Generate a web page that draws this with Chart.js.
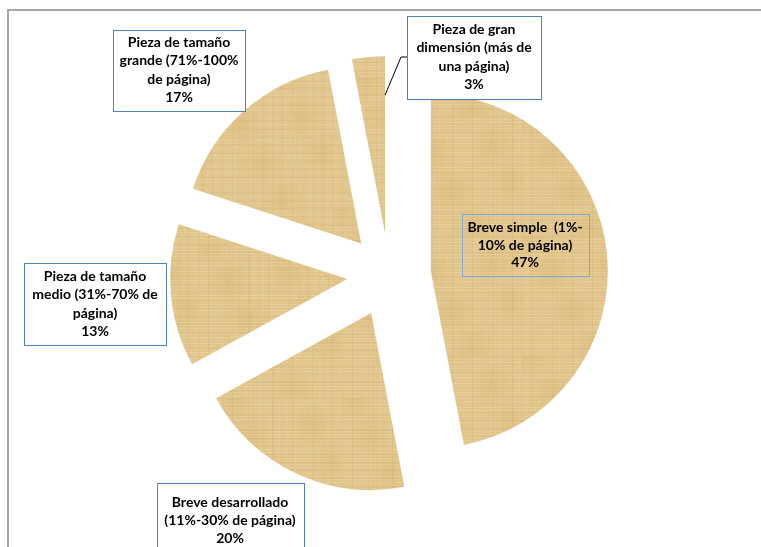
<!DOCTYPE html>
<html>
<head>
<meta charset="utf-8">
<script src="https://cdn.jsdelivr.net/npm/chart.js@4/dist/chart.umd.min.js"></script>
<style>
    html, body { margin: 0; padding: 0; background: #fff; }
    #wrap { width: 761px; height: 547px; }
</style>
</head>
<body>
<div id="wrap"><canvas id="tamanos" width="761" height="547"></canvas></div>
<script>
// datos
const categorias = [
    'Breve simple (1%-10% de página)',
    'Breve desarrollado (11%-30% de página)',
    'Pieza de tamaño medio (31%-70% de página)',
    'Pieza de tamaño grande (71%-100% de página)',
    'Pieza de gran dimensión (más de una página)'
];
const porcentajes = [47, 20, 13, 17, 3];
const lineasEtiqueta = [
    ['Breve simple  (1%-', '10% de página)'],
    ['Breve desarrollado', '(11%-30% de página)'],
    ['Pieza de tamaño', 'medio (31%-70% de', 'página)'],
    ['Pieza de tamaño', 'grande (71%-100%', 'de página)'],
    ['Pieza de gran', 'dimensión (más de', 'una página)']
];

// layout de las cajas (relativo al centro del pastel)
const cajas = [
    { dx: 136, dy: -30, w: 127, h: 62, fondo: null, borde: '#7FA6D8', alto: 17.5 },
    { dx: -159, dy: 245, w: 147, h: 74, fondo: '#fff', borde: '#4F81BD', alto: 18 },
    { dx: -294, dy: 29, w: 142, h: 82, fondo: '#fff', borde: '#4F81BD', alto: 18.3 },
    { dx: -210, dy: -205, w: 132, h: 81, fondo: '#fff', borde: '#4F81BD', alto: 18.3 },
    { dx: 85, dy: -218, w: 134, h: 83, fondo: '#fff', borde: '#4F81BD', alto: 18.3 }
];
const EXPLOSION = 42;

function crearPapiro(ctx) {
    const n = 120;
    const c = document.createElement('canvas');
    c.width = n;
    c.height = n;
    const g = c.getContext('2d');
    g.fillStyle = '#E4C990';
    g.fillRect(0, 0, n, n);
    // fibras verticales
    for (let x = 0; x < n; x += 2) {
        const a = 0.04 + 0.08 * Math.abs(Math.sin(x * 1.73) * Math.cos(x * 0.37));
        g.fillStyle = `rgba(175,135,70,${a.toFixed(3)})`;
        g.fillRect(x, 0, 1, n);
    }
    // fibras horizontales claras
    for (let y = 0; y < n; y += 3) {
        const a = 0.12 + 0.14 * Math.abs(Math.sin(y * 2.31));
        g.fillStyle = `rgba(250,236,200,${a.toFixed(3)})`;
        g.fillRect(0, y, n, 1);
    }
    // trama tejida
    for (let y = 0; y < n; y += 8) {
        g.fillStyle = 'rgba(160,120,60,0.10)';
        g.fillRect(0, y, n, 1);
    }
    for (let x = 0; x < n; x += 10) {
        g.fillStyle = 'rgba(160,120,60,0.08)';
        g.fillRect(x, 0, 1, n);
    }
    // manchas suaves
    for (let k = 0; k < 6; k++) {
        const x = 20 * k + 10;
        const y = (37 * k) % n;
        const grd = g.createRadialGradient(x, y, 0, x, y, 22);
        grd.addColorStop(0, 'rgba(200,160,90,0.18)');
        grd.addColorStop(1, 'rgba(200,160,90,0)');
        g.fillStyle = grd;
        g.fillRect(x - 22, y - 22, 44, 44);
    }
    return ctx.createPattern(c, 'repeat');
}

const marco = {
    id: 'marco',
    beforeDraw(chart) {
        const ctx = chart.ctx;
        ctx.save();
        ctx.fillStyle = '#fff';
        ctx.fillRect(0, 0, chart.width, chart.height);
        ctx.strokeStyle = '#A6A6A6';
        ctx.lineWidth = 2;
        ctx.strokeRect(8, 10, chart.width + 20, chart.height + 20);
        ctx.restore();
    }
};

// separa cada porción a lo largo de su bisectriz sin agrandar el radio
const explosion = {
    id: 'explosion',
    beforeDatasetDraw(chart, args) {
        const ctx = chart.ctx;
        args.meta.data.forEach(arc => {
            const mid = (arc.startAngle + arc.endAngle) / 2;
            ctx.save();
            ctx.translate(Math.cos(mid) * EXPLOSION, Math.sin(mid) * EXPLOSION);
            arc.draw(ctx);
            ctx.restore();
        });
        return false;
    }
};

const etiquetas = {
    id: 'etiquetas',
    afterDatasetsDraw(chart) {
        const ctx = chart.ctx;
        const arcs = chart.getDatasetMeta(0).data;
        const cx = arcs[0].x;
        const cy = arcs[0].y;

        // línea guía de la porción pequeña
        const ult = arcs[arcs.length - 1];
        const mid = (ult.startAngle + ult.endAngle) / 2;
        const ax = cx + Math.cos(mid) * EXPLOSION;
        const ay = cy + Math.sin(mid) * EXPLOSION;
        const r = ult.outerRadius * 0.78;
        const px = ax + Math.cos(ult.endAngle) * r;
        const py = ay + Math.sin(ult.endAngle) * r;
        const cj = cajas[cajas.length - 1];
        const bxl = cx + cj.dx - cj.w / 2;
        ctx.save();
        ctx.strokeStyle = '#000';
        ctx.lineWidth = 1;
        ctx.beginPath();
        ctx.moveTo(px, py);
        ctx.lineTo(bxl - 6, cy + cj.dy);
        ctx.lineTo(bxl, cy + cj.dy);
        ctx.stroke();

        ctx.font = 'bold 14px Lato, "Open Sans", sans-serif';
        ctx.textAlign = 'center';
        ctx.textBaseline = 'middle';
        cajas.forEach((caja, i) => {
            const bx = cx + caja.dx;
            const by = cy + caja.dy;
            const x0 = Math.round(bx - caja.w / 2) + 0.5;
            const y0 = Math.round(by - caja.h / 2) + 0.5;
            if (caja.fondo) {
                ctx.fillStyle = caja.fondo;
                ctx.fillRect(x0, y0, caja.w, caja.h);
            }
            ctx.strokeStyle = caja.borde;
            ctx.lineWidth = 1;
            ctx.strokeRect(x0, y0, caja.w, caja.h);
            const lineas = lineasEtiqueta[i].concat(porcentajes[i] + '%');
            const y1 = by - (lineas.length - 1) * caja.alto / 2;
            ctx.fillStyle = '#000';
            lineas.forEach((t, k) => ctx.fillText(t, bx, y1 + k * caja.alto));
        });
        ctx.restore();
    }
};

const canvas = document.getElementById('tamanos');
const papiro = crearPapiro(canvas.getContext('2d'));

new Chart(canvas, {
    type: 'pie',
    data: {
        labels: categorias,
        datasets: [{
            data: porcentajes,
            backgroundColor: papiro,
            borderWidth: 0
        }]
    },
    options: {
        responsive: false,
        animation: false,
        radius: 177,
        layout: {
            padding: { left: 17, right: 0, top: 3, bottom: 0 }
        },
        plugins: {
            legend: { display: false },
            tooltip: { enabled: false }
        }
    },
    plugins: [marco, explosion, etiquetas]
});
</script>
</body>
</html>
